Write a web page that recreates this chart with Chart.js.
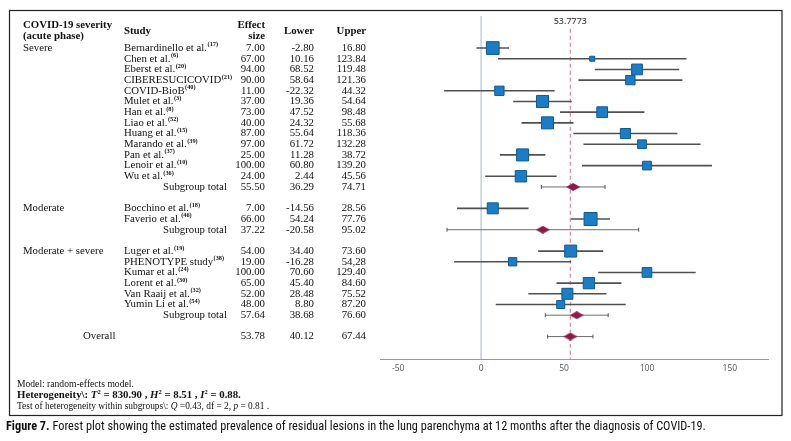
<!DOCTYPE html>
<html>
<head>
<meta charset="utf-8">
<script src="https://cdn.jsdelivr.net/npm/chart.js@4.4.1/dist/chart.umd.min.js"></script>
<style>
html, body { margin: 0; padding: 0; background: #fff; }
canvas { display: block; }
</style>
</head>
<body>
<canvas id="forestChart" width="791" height="441"></canvas>
<script>
// ===== DATA =====
const groups = ['Severe', 'Moderate', 'Moderate + severe'];
const studies = ['Bernardinello et al.', 'Chen et al.', 'Eberst et al.', 'CIBERESUCICOVID', 'COVID-BioB',
    'Mulet et al.', 'Han et al.', 'Liao et al.', 'Huang et al.', 'Marando et al.', 'Pan et al.',
    'Lenoir et al.', 'Wu et al.',
    'Bocchino et al.', 'Faverio et al.',
    'Luger et al.', 'PHENOTYPE study', 'Kumar et al.', 'Lorent et al.', 'Van Raaij et al.', 'Yumin Li et al.'];
const refs = ['(17)', '(6)', '(20)', '(21)', '(40)', '(3)', '(8)', '(52)', '(15)', '(39)', '(37)', '(10)', '(36)',
    '(18)', '(46)', '(19)', '(38)', '(24)', '(30)', '(32)', '(54)'];
const studyGroup = [0, 0, 0, 0, 0, 0, 0, 0, 0, 0, 0, 0, 0, 1, 1, 2, 2, 2, 2, 2, 2];
const effect = [7, 67, 94, 90, 11, 37, 73, 40, 87, 97, 25, 100, 24, 7, 66, 54, 19, 100, 65, 52, 48];
const lower = [-2.80, 10.16, 68.52, 58.64, -22.32, 19.36, 47.52, 24.32, 55.64, 61.72, 11.28, 60.80, 2.44,
    -14.56, 54.24, 34.40, -16.28, 70.60, 45.40, 28.48, 8.80];
const upper = [16.80, 123.84, 119.48, 121.36, 44.32, 54.64, 98.48, 55.68, 118.36, 132.28, 38.72, 139.20, 45.56,
    28.56, 77.76, 73.60, 54.28, 129.40, 84.60, 75.52, 87.20];
const upperLabels = { 16: '54,28' }; // as printed in the source table
const weights = [11.5, 1.8, 8.2, 6.2, 6.2, 10.3, 8.2, 10.3, 7.2, 5.4, 10.3, 5.4, 9.2,
    8.6, 12.0, 10.2, 4.9, 6.7, 9.1, 8.6, 4.6];
const subEffect = [55.50, 37.22, 57.64];
const subLower = [36.29, -20.58, 38.68];
const subUpper = [74.71, 95.02, 76.60];
const overall = [53.78, 40.12, 67.44];
const pooled = 53.7773;
const xTicks = [-50, 0, 50, 100, 150];

// ===== ROWS =====
const studyRow = [];
const subRow = [];
let row = 0;
groups.forEach((g, gi) => {
    studyGroup.forEach((sg, i) => { if (sg === gi) studyRow[i] = row++; });
    subRow[gi] = row++;
    row++; // blank line between groups
});
const overallRow = row;
const Y_MIN = -3, Y_MAX = 29.1;

// diamond marker for pooled estimates
function makeDiamond(w, h, color) {
    const c = document.createElement('canvas');
    c.width = w; c.height = h;
    const g = c.getContext('2d');
    g.fillStyle = color;
    g.beginPath();
    g.moveTo(0, h / 2); g.lineTo(w / 2, 0); g.lineTo(w, h / 2); g.lineTo(w / 2, h);
    g.closePath();
    g.fill();
    return c;
}
const diamond = makeDiamond(14, 8, '#8a1c4a');

// ===== DATASETS =====
const datasets = [];

datasets.push({
    data: [{ x: 0, y: Y_MIN }, { x: 0, y: Y_MAX }],
    showLine: true, pointRadius: 0, borderColor: '#c9d6e8', borderWidth: 1, order: 6
});
datasets.push({
    data: [{ x: pooled, y: -1.8 }, { x: pooled, y: Y_MAX }],
    showLine: true, pointRadius: 0, borderColor: '#e08da3', borderWidth: 1.3, borderDash: [4, 3], order: 5
});

studies.forEach((s, i) => {
    datasets.push({
        data: [{ x: lower[i], y: studyRow[i] }, { x: upper[i], y: studyRow[i] }],
        showLine: true, pointRadius: 0, borderColor: '#505050', borderWidth: 1.6, order: 4
    });
});

const pooledRows = subRow.concat([overallRow]);
const pooledEff = subEffect.concat([overall[0]]);
const pooledLo = subLower.concat([overall[1]]);
const pooledHi = subUpper.concat([overall[2]]);
pooledRows.forEach((r, i) => {
    datasets.push({
        data: [{ x: pooledLo[i], y: r }, { x: pooledHi[i], y: r }],
        showLine: true, pointRadius: 0, borderColor: '#6f6f6f', borderWidth: 1, order: 4
    });
});

// whisker end caps on pooled rows
datasets.push({
    data: pooledRows.flatMap((r, i) => [{ x: pooledLo[i], y: r }, { x: pooledHi[i], y: r }]),
    pointStyle: 'line', rotation: 90, pointRadius: 2, borderColor: '#555', borderWidth: 1, order: 3
});

// study squares, side grows with sqrt(weight)
datasets.push({
    data: studies.map((s, i) => ({ x: effect[i], y: studyRow[i] })),
    pointStyle: 'rect',
    pointRadius: ctx => 3.75 * Math.sqrt(weights[ctx.dataIndex]) / Math.SQRT2,
    backgroundColor: '#1c7cc4', borderColor: '#11598f', borderWidth: 1, order: 1
});

// pooled diamonds
datasets.push({
    data: pooledRows.map((r, i) => ({ x: pooledEff[i], y: r })),
    pointStyle: diamond, pointRadius: 7, order: 0
});

// ===== TEXT =====
const SERIF = '"Liberation Serif", "Times New Roman", serif';

function drawRuns(ctx, x, y, runs) {
    runs.forEach(run => {
        ctx.font = run.font;
        ctx.fillText(run.text, x, y + (run.dy || 0));
        x += ctx.measureText(run.text).width;
    });
}

const tablePlugin = {
    id: 'tableText',
    beforeDraw(chart) {
        const ctx = chart.ctx;
        ctx.save();
        ctx.fillStyle = '#fff';
        ctx.fillRect(0, 0, chart.width, chart.height);
        ctx.restore();
    },
    afterDraw(chart) {
        const ctx = chart.ctx;
        const ys = chart.scales.y;
        const xs = chart.scales.x;
        const py = v => ys.getPixelForValue(v);

        ctx.save();
        ctx.fillStyle = '#111';
        ctx.textBaseline = 'middle';

        // headers
        const hb = 'bold 10.8px ' + SERIF;
        ctx.font = hb;
        ctx.textAlign = 'left';
        ctx.fillText('COVID-19 severity', 23, py(-2.12));
        ctx.fillText('(acute phase)', 23, py(-1.1));
        ctx.fillText('Study', 124, py(-1.56));
        ctx.textAlign = 'right';
        ctx.fillText('Effect', 265, py(-2.12));
        ctx.fillText('size', 265, py(-1.1));
        ctx.fillText('Lower', 314, py(-1.56));
        ctx.fillText('Upper', 366, py(-1.56));

        const body = '10.8px ' + SERIF;
        // group labels
        ctx.font = body;
        ctx.textAlign = 'left';
        groups.forEach((g, gi) => {
            const first = studyGroup.indexOf(gi);
            ctx.fillText(g, 23, py(studyRow[first]));
        });

        // studies
        studies.forEach((s, i) => {
            const y = py(studyRow[i]);
            ctx.textAlign = 'left';
            ctx.font = body;
            ctx.fillText(s, 124, y);
            const w = ctx.measureText(s).width;
            ctx.font = 'bold 6.3px ' + SERIF;
            ctx.fillText(refs[i], 124 + w + 0.5, y - 3.2);
            ctx.font = body;
            ctx.textAlign = 'right';
            ctx.fillText(effect[i].toFixed(2), 265, y);
            ctx.fillText(lower[i].toFixed(2), 314, y);
            ctx.fillText(upperLabels[i] || upper[i].toFixed(2), 366, y);
        });

        // subgroup totals + overall
        pooledRows.forEach((r, i) => {
            const y = py(r);
            ctx.textAlign = 'left';
            ctx.font = body;
            ctx.fillText(i < subRow.length ? 'Subgroup total' : 'Overall', i < subRow.length ? 163 : 83, y);
            ctx.textAlign = 'right';
            ctx.fillText(pooledEff[i].toFixed(2), 265, y);
            ctx.fillText(pooledLo[i].toFixed(2), 314, y);
            ctx.fillText(pooledHi[i].toFixed(2), 366, y);
        });

        // pooled value label
        ctx.textAlign = 'center';
        ctx.fillStyle = '#555';
        ctx.font = '600 9px "Open Sans", sans-serif';
        ctx.fillText(pooled.toString(), xs.getPixelForValue(pooled), 21);

        // model notes
        ctx.fillStyle = '#111';
        ctx.textAlign = 'left';
        ctx.textBaseline = 'alphabetic';
        ctx.font = '9.6px ' + SERIF;
        ctx.fillText('Model: random-effects model.', 17, 387);
        const b = 'bold 10.8px ' + SERIF, bi = 'italic bold 10.8px ' + SERIF, bs = 'bold 6.5px ' + SERIF;
        drawRuns(ctx, 17, 398, [
            { text: 'Heterogeneity\\: ', font: b },
            { text: 'T', font: bi }, { text: '2', font: bs, dy: -4.5 },
            { text: ' = 830.90 , ', font: b },
            { text: 'H', font: bi }, { text: '2', font: bs, dy: -4.5 },
            { text: ' = 8.51 , ', font: b },
            { text: 'I', font: bi }, { text: '2', font: bs, dy: -4.5 },
            { text: ' = 0.88.', font: b }
        ]);
        const n = '9.4px ' + SERIF, ni = 'italic 9.4px ' + SERIF;
        drawRuns(ctx, 17, 409, [
            { text: 'Test of heterogeneity within subgroups\\: ', font: n },
            { text: 'Q', font: ni }, { text: ' =0.43, df = 2, ', font: n },
            { text: 'p', font: ni }, { text: ' = 0.81 .', font: n }
        ]);

        // frame
        ctx.strokeStyle = '#222';
        ctx.lineWidth = 1.2;
        ctx.strokeRect(9.5, 10.5, 772.5, 405);

        // caption
        const cf = '"Liberation Sans Narrow", "Roboto Condensed", Roboto, sans-serif';
        drawRuns(ctx, 6, 430, [
            { text: 'Figure 7.', font: 'bold 12.3px ' + cf },
            { text: ' Forest plot showing the estimated prevalence of residual lesions in the lung parenchyma at 12 months after the diagnosis of COVID-19.', font: '12.3px ' + cf }
        ]);
        ctx.restore();
    }
};

// ===== CHART =====
new Chart(document.getElementById('forestChart'), {
    type: 'scatter',
    data: { datasets: datasets },
    options: {
        responsive: false,
        animation: false,
        layout: { padding: { left: 380, right: 23, top: 16, bottom: 0 } },
        plugins: { legend: { display: false }, tooltip: { enabled: false } },
        scales: {
            x: {
                type: 'linear',
                min: -61,
                max: 173,
                afterBuildTicks: scale => { scale.ticks = xTicks.map(v => ({ value: v })); },
                afterFit: scale => { scale.height = 82; },
                grid: { display: false, drawTicks: false },
                border: { display: true, color: '#9a9a9a', width: 1 },
                ticks: { color: '#555', padding: 4, maxRotation: 0, font: { family: '"Open Sans", sans-serif', size: 8.5 } }
            },
            y: {
                type: 'linear',
                min: Y_MIN,
                max: Y_MAX,
                reverse: true,
                display: false
            }
        }
    },
    plugins: [tablePlugin]
});
</script>
</body>
</html>
